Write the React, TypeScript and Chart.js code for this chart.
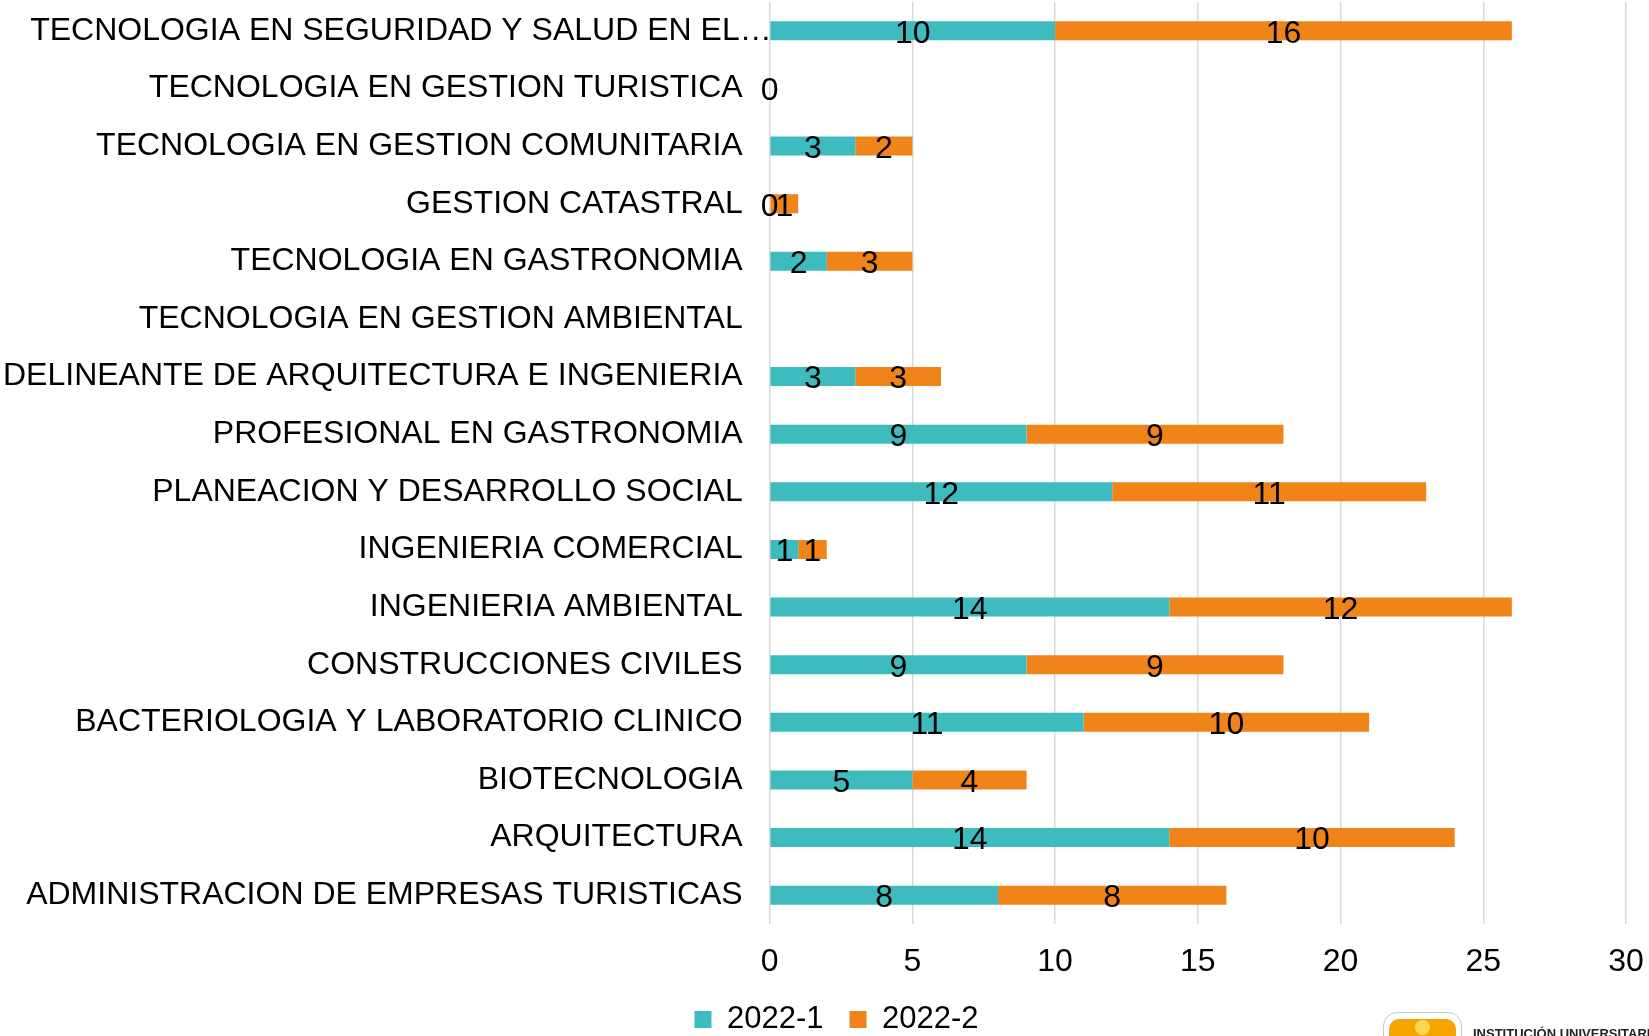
import React, { useEffect, useRef } from "react";
import { Chart, registerables } from "chart.js";

Chart.register(...registerables);

const categories = [
  "TECNOLOGIA EN SEGURIDAD Y SALUD EN EL…",
  "TECNOLOGIA EN GESTION TURISTICA",
  "TECNOLOGIA EN GESTION COMUNITARIA",
  "GESTION CATASTRAL",
  "TECNOLOGIA EN GASTRONOMIA",
  "TECNOLOGIA EN GESTION AMBIENTAL",
  "DELINEANTE DE ARQUITECTURA E INGENIERIA",
  "PROFESIONAL EN GASTRONOMIA",
  "PLANEACION Y DESARROLLO SOCIAL",
  "INGENIERIA COMERCIAL",
  "INGENIERIA AMBIENTAL",
  "CONSTRUCCIONES CIVILES",
  "BACTERIOLOGIA Y LABORATORIO CLINICO",
  "BIOTECNOLOGIA",
  "ARQUITECTURA",
  "ADMINISTRACION DE EMPRESAS TURISTICAS",
];

const series1Label = "2022-1";
const series2Label = "2022-2";
const series1: (number | null)[] = [10, 0, 3, 0, 2, null, 3, 9, 12, 1, 14, 9, 11, 5, 14, 8];
const series2: (number | null)[] = [16, null, 2, 1, 3, null, 3, 9, 11, 1, 12, 9, 10, 4, 10, 8];

const xTicks = [0, 5, 10, 15, 20, 25, 30];

const FONT = "'Liberation Sans', Arial, sans-serif";
const TEAL = "#3DBBBF";
const ORANGE = "#F18419";

const dataLabelPlugin = {
  id: "dataLabels",
  afterDatasetsDraw(chart: any) {
    const ctx = chart.ctx;
    ctx.save();
    ctx.font = `32px ${FONT}`;
    ctx.fillStyle = "#000";
    ctx.textAlign = "center";
    ctx.textBaseline = "middle";
    chart.data.datasets.forEach((ds: any, di: number) => {
      const meta = chart.getDatasetMeta(di);
      meta.data.forEach((el: any, i: number) => {
        const v = ds.data[i];
        if (v === null || v === undefined) return;
        const x = (el.x + el.base) / 2;
        ctx.fillText(String(v), x, el.y + 3);
      });
    });
    ctx.restore();
  },
};

// The truncated first category label runs up to the axis line, as in the original
const truncatedLabelPlugin = {
  id: "truncatedLabel",
  afterDraw(chart: any) {
    const y = chart.scales.y;
    const ctx = chart.ctx;
    ctx.save();
    ctx.font = `32px ${FONT}`;
    ctx.fillStyle = "#000";
    ctx.textAlign = "right";
    ctx.textBaseline = "middle";
    ctx.fillText(categories[0], chart.chartArea.left + 2, y.getPixelForValue(0));
    ctx.restore();
  },
};

const legendShiftPlugin = {
  id: "legendShift",
  afterLayout(chart: any) {
    if (chart.legend) chart.legend.left += 44;
  },
};

export default function App() {
  const ref = useRef<HTMLCanvasElement | null>(null);
  useEffect(() => {
    document.body.style.margin = "0";
    const chart = new Chart(ref.current as HTMLCanvasElement, {
      type: "bar",
      data: {
        labels: categories,
        datasets: [
          { label: series1Label, data: series1, backgroundColor: TEAL, barPercentage: 0.33, categoryPercentage: 1 },
          { label: series2Label, data: series2, backgroundColor: ORANGE, barPercentage: 0.33, categoryPercentage: 1 },
        ],
      },
      options: {
        indexAxis: "y",
        animation: false,
        responsive: true,
        maintainAspectRatio: false,
        layout: { padding: { left: 3, right: 23, top: 2, bottom: 0 } },
        plugins: {
          legend: {
            position: "bottom",
            labels: {
              font: { family: FONT, size: 31 },
              color: "#000",
              boxWidth: 17,
              boxHeight: 17,
              padding: 26,
            },
          },
          tooltip: { enabled: false },
        },
        scales: {
          x: {
            stacked: true,
            min: 0,
            max: 30,
            afterBuildTicks: (axis: any) => {
              axis.ticks = xTicks.map((v) => ({ value: v }));
            },
            ticks: { font: { family: FONT, size: 32 }, color: "#000", padding: 19 },
            grid: { color: "#D9D9D9", lineWidth: 1.5, drawTicks: false },
            border: { display: false },
            afterFit: (axis: any) => {
              axis.height = 54;
              axis.paddingRight = 0;
              axis.paddingLeft = 0;
            },
          },
          y: {
            stacked: true,
            ticks: {
              font: { family: FONT, size: 32 },
              color: "#000",
              padding: 0,
              autoSkip: false,
              callback: (_v: any, i: number) => (i === 0 ? "" : categories[i]),
            },
            grid: { display: false, drawTicks: true, tickLength: 27 },
            border: { display: false },
            afterFit: (axis: any) => {
              axis.paddingTop = 0;
              axis.paddingBottom = 0;
            },
          },
        },
      },
      plugins: [dataLabelPlugin, truncatedLabelPlugin, legendShiftPlugin],
    });
    return () => chart.destroy();
  }, []);
  return (
    <div style={{ position: "relative", width: 1649, height: 1036, overflow: "hidden", background: "#fff" }}>
      <div style={{ position: "absolute", left: 0, top: 0, width: 1649, height: 1045 }}>
        <canvas ref={ref} />
      </div>
      <div
        style={{
          position: "absolute",
          left: 1383,
          top: 1012,
          width: 77,
          height: 40,
          background: "#fff",
          border: "1.5px solid #c8c8c8",
          borderRadius: "14px 14px 0 0",
        }}
      />
      <div
        style={{
          position: "absolute",
          left: 1389,
          top: 1019,
          width: 67,
          height: 30,
          background: "#F6A400",
          borderRadius: "10px 10px 0 0",
        }}
      />
      <div
        style={{
          position: "absolute",
          left: 1415,
          top: 1020,
          width: 15,
          height: 15,
          background: "#FFD84D",
          borderRadius: "50%",
        }}
      />
      <div
        style={{
          position: "absolute",
          left: 1473,
          top: 1026,
          fontFamily: FONT,
          fontWeight: "bold",
          fontSize: 13,
          color: "#222",
          whiteSpace: "nowrap",
        }}
      >
        INSTITUCIÓN UNIVERSITARIA
      </div>
    </div>
  );
}
